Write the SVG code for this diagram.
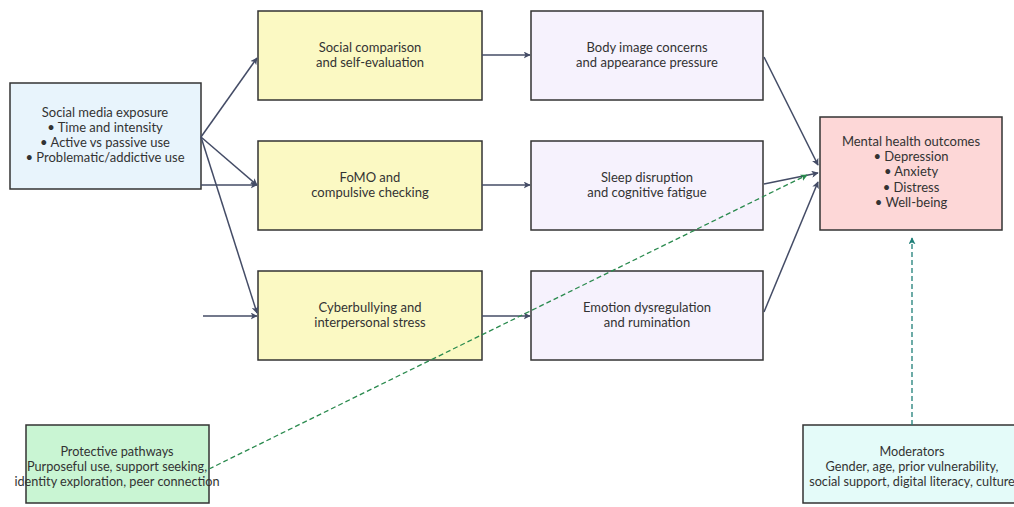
<svg xmlns="http://www.w3.org/2000/svg" width="1014" height="507" viewBox="0 0 1014 507">
<defs>
<marker id="ah" viewBox="0 0 10 10" refX="9" refY="5" markerWidth="7" markerHeight="7" orient="auto" markerUnits="userSpaceOnUse"><path d="M0,0 L10,5 L0,10 L2.5,5 z" fill="#444c66"/></marker>
<marker id="ahg" viewBox="0 0 10 10" refX="9" refY="5" markerWidth="7" markerHeight="7" orient="auto" markerUnits="userSpaceOnUse"><path d="M0,0 L10,5 L0,10 L2.5,5 z" fill="#2a8a4e"/></marker>
<marker id="aht" viewBox="0 0 10 10" refX="9" refY="5" markerWidth="7" markerHeight="7" orient="auto" markerUnits="userSpaceOnUse"><path d="M0,0 L10,5 L0,10 L2.5,5 z" fill="#1f7f78"/></marker>
</defs>
<style>
.n{stroke:#333;stroke-width:1.5}
text{font-family:Lato,"Open Sans","Liberation Sans",sans-serif;font-size:13px;fill:#333;text-anchor:middle}
.sm{font-size:12.7px}
.e{fill:none;stroke:#444c66;stroke-width:1.5;marker-end:url(#ah)}
.g{fill:none;stroke:#2a8a4e;stroke-width:1.3;stroke-dasharray:5,3;marker-end:url(#ahg)}
.t{fill:none;stroke:#1f7f78;stroke-width:1.3;stroke-dasharray:5,3;marker-end:url(#aht)}
</style>
<rect width="1014" height="507" fill="#fff"/>
<g id="source">
<rect class="n" x="10" y="83" width="191" height="106" fill="#e8f4fc"/>
<text x="105" y="117">Social media exposure</text>
<text x="105" y="132">• Time and intensity</text>
<text x="105" y="147">• Active vs passive use</text>
<text x="105" y="162">• Problematic/addictive use</text>
</g>
<g id="comparison">
<rect class="n" x="258" y="11" width="224" height="89" fill="#fbf9c3"/>
<text x="370" y="52">Social comparison</text>
<text x="370" y="67">and self-evaluation</text>
</g>
<g id="fomo">
<rect class="n" x="258" y="141" width="224" height="89" fill="#fbf9c3"/>
<text x="370" y="182">FoMO and</text>
<text x="370" y="197">compulsive checking</text>
</g>
<g id="cyber">
<rect class="n" x="258" y="271" width="224" height="89" fill="#fbf9c3"/>
<text x="370" y="312">Cyberbullying and</text>
<text x="370" y="327">interpersonal stress</text>
</g>
<g id="body">
<rect class="n" x="531" y="11" width="232" height="89" fill="#f6f2fd"/>
<text x="647" y="52">Body image concerns</text>
<text x="647" y="67">and appearance pressure</text>
</g>
<g id="sleep">
<rect class="n" x="531" y="141" width="232" height="89" fill="#f6f2fd"/>
<text x="647" y="182">Sleep disruption</text>
<text x="647" y="197">and cognitive fatigue</text>
</g>
<g id="emotion">
<rect class="n" x="531" y="271" width="232" height="89" fill="#f6f2fd"/>
<text x="647" y="312">Emotion dysregulation</text>
<text x="647" y="327">and rumination</text>
</g>
<g id="outcomes">
<rect class="n" x="820" y="117" width="182" height="113" fill="#fdd7d7"/>
<text x="911" y="146">Mental health outcomes</text>
<text x="911" y="161">• Depression</text>
<text x="911" y="176">• Anxiety</text>
<text x="911" y="192">• Distress</text>
<text x="911" y="207">• Well-being</text>
</g>
<g id="protective">
<rect class="n" x="26" y="425" width="183" height="78" fill="#c9f5d3"/>
<text class="sm" x="117" y="456">Protective pathways</text>
<text class="sm" x="117" y="471">Purposeful use, support seeking,</text>
<text class="sm" x="117" y="486">identity exploration, peer connection</text>
</g>
<g id="moderators">
<rect class="n" x="803" y="425" width="218" height="78" fill="#e4fbf9"/>
<text class="sm" x="912" y="456">Moderators</text>
<text class="sm" x="912" y="471">Gender, age, prior vulnerability,</text>
<text class="sm" x="912" y="486">social support, digital literacy, culture</text>
</g>
<g id="connectors">
<path class="e" d="M201,137 L257,58"/>
<path class="e" d="M201,137 L257,185"/>
<path class="e" d="M201,185 L257,185"/>
<path class="e" d="M201,137 L257,313"/>
<path class="e" d="M203,316 L257,316"/>
<path class="e" d="M482,55 L530,55"/>
<path class="e" d="M482,185 L530,185"/>
<path class="e" d="M482,316 L530,316"/>
<path class="e" d="M764,57 L818,165"/>
<path class="e" d="M764,184 L818,173"/>
<path class="e" d="M764,312 L818,182"/>
<path class="g" d="M209,469 L807,175"/>
<path class="t" d="M912,425 L912,238"/>
</g>
</svg>
